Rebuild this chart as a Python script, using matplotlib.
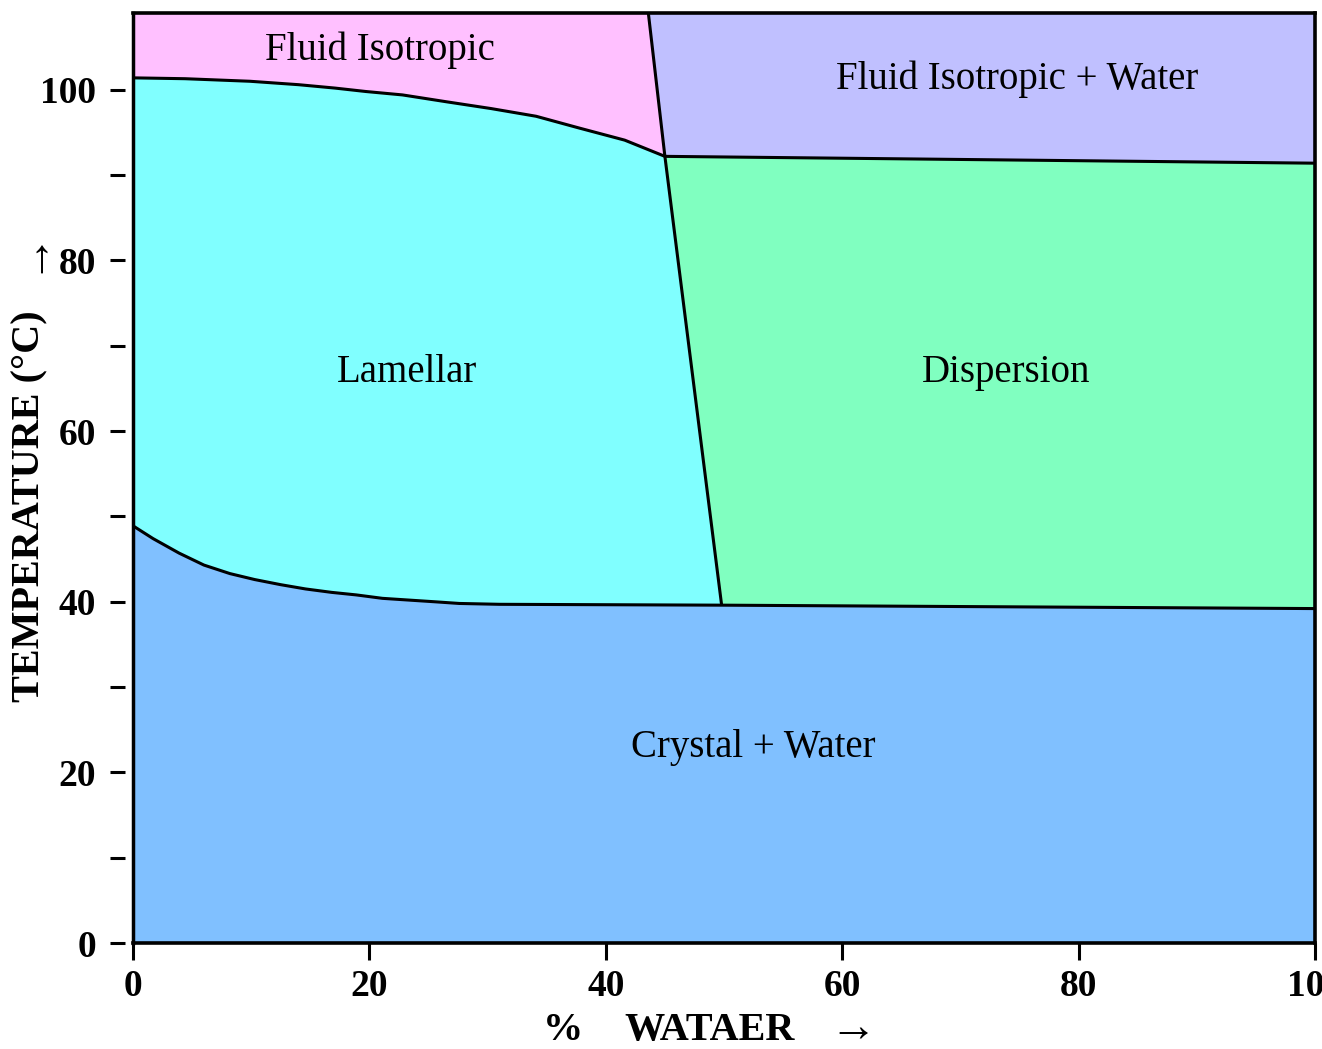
#!/usr/bin/env python3
# Phase diagram: temperature vs % water
import numpy as np
import matplotlib.pyplot as plt

plt.rcParams['font.family'] = ['Liberation Serif', 'DejaVu Serif']
plt.rcParams['font.weight'] = 'bold'

# boundaries (x = % water, y = temperature in C)
# lamellar / fluid isotropic
iso_x = [0, 4.4, 9.9, 14.0, 17.1, 19.7, 22.8, 26.5, 30.3, 34.1, 37.8, 41.6, 45]
iso_y = [101.4, 101.3, 101.0, 100.6, 100.2, 99.8, 99.4, 98.6, 97.8, 96.9,
         95.5, 94.1, 92.2]
# water-rich boundary
sep_x = [43.6, 45, 49.8]
sep_y = [109, 92.2, 39.6]
# dispersion / fluid isotropic + water
disp_x = [45, 100]
disp_y = [92.2, 91.4]
# top of crystal + water
cry_x = [0, 1.7, 3.9, 6.0, 8.2, 10.3, 12.5, 14.6, 16.8, 18.9, 21.1, 23.3,
         25.5, 27.6, 31.0, 49.8, 100]
cry_y = [48.9, 47.4, 45.7, 44.3, 43.3, 42.6, 42.0, 41.5, 41.1, 40.8, 40.4,
         40.2, 40.0, 39.8, 39.7, 39.6, 39.2]
y_top = 109

regions = ['Fluid Isotropic', 'Fluid Isotropic + Water', 'Lamellar',
           'Dispersion', 'Crystal + Water']
colors = ['#ffc0ff', '#c0c0ff', '#80ffff', '#80ffc0', '#80c0ff']
label_x = [20.9, 74.8, 23.2, 73.9, 52.5]
label_y = [104.6, 101.2, 66.9, 66.9, 22.9]

fig = plt.figure(figsize=(13.22, 10.49), dpi=100)
ax = fig.add_axes([0.1006, 0.1010, 0.8941, 0.8866])

k = cry_x.index(sep_x[-1])  # where the water-rich boundary meets the crystal line

# crystal + water
ax.fill(cry_x + [100, 0], cry_y + [0, 0], color=colors[4], lw=0)
# lamellar
ax.fill(cry_x[:k + 1] + [sep_x[1]] + iso_x[::-1][1:],
        cry_y[:k + 1] + [sep_y[1]] + iso_y[::-1][1:], color=colors[2], lw=0)
# fluid isotropic
ax.fill(iso_x + [sep_x[0], 0], iso_y + [y_top, y_top], color=colors[0], lw=0)
# fluid isotropic + water
ax.fill(sep_x[:2] + [disp_x[1], 100], sep_y[:2] + [disp_y[1], y_top],
        color=colors[1], lw=0)
# dispersion
ax.fill(sep_x[1:] + cry_x[k + 1:] + [disp_x[1]],
        sep_y[1:] + cry_y[k + 1:] + [disp_y[1]], color=colors[3], lw=0)

for xs, ys in [(iso_x, iso_y), (sep_x, sep_y), (disp_x, disp_y), (cry_x, cry_y)]:
    ax.plot(xs, ys, color='black', lw=2.2, solid_capstyle='butt')

for name, tx, ty in zip(regions, label_x, label_y):
    ax.text(tx, ty, name, ha='center', va='center', fontsize=28,
            fontweight='normal')

ax.set_xlim(0, 100)
ax.set_ylim(0, y_top)

ax.set_xticks(np.arange(0, 101, 20))
ax.set_yticks(np.arange(0, 101, 20))
ax.set_yticks(np.arange(10, 100, 20), minor=True)
ax.tick_params(axis='x', direction='out', length=12, width=2.2, pad=7,
               labelsize=27)
ax.tick_params(axis='y', which='both', direction='out', length=10.8, width=2.2,
               pad=10, labelsize=27)

ax.spines['left'].set_position(('outward', 6))
ax.spines['left'].set_visible(False)
ax.axvline(0, color='black', lw=2.5, clip_on=False)
for side in ['top', 'right', 'bottom']:
    ax.spines[side].set_linewidth(2.6)

fig.text(0.023, 0.517, 'TEMPERATURE (°C)', rotation=90, ha='center',
         va='center', fontsize=29)
fig.text(0.023, 0.762, '\u2192', rotation=90, ha='center', va='center',
         fontsize=34, fontweight='normal')
fig.text(0.426, 0.018, '%', ha='center', va='center', fontsize=29)
fig.text(0.537, 0.018, 'WATAER', ha='center', va='center', fontsize=29)
fig.text(0.645, 0.018, '\u2192', ha='center', va='center', fontsize=34,
         fontweight='normal')

fig.savefig('out.png')
